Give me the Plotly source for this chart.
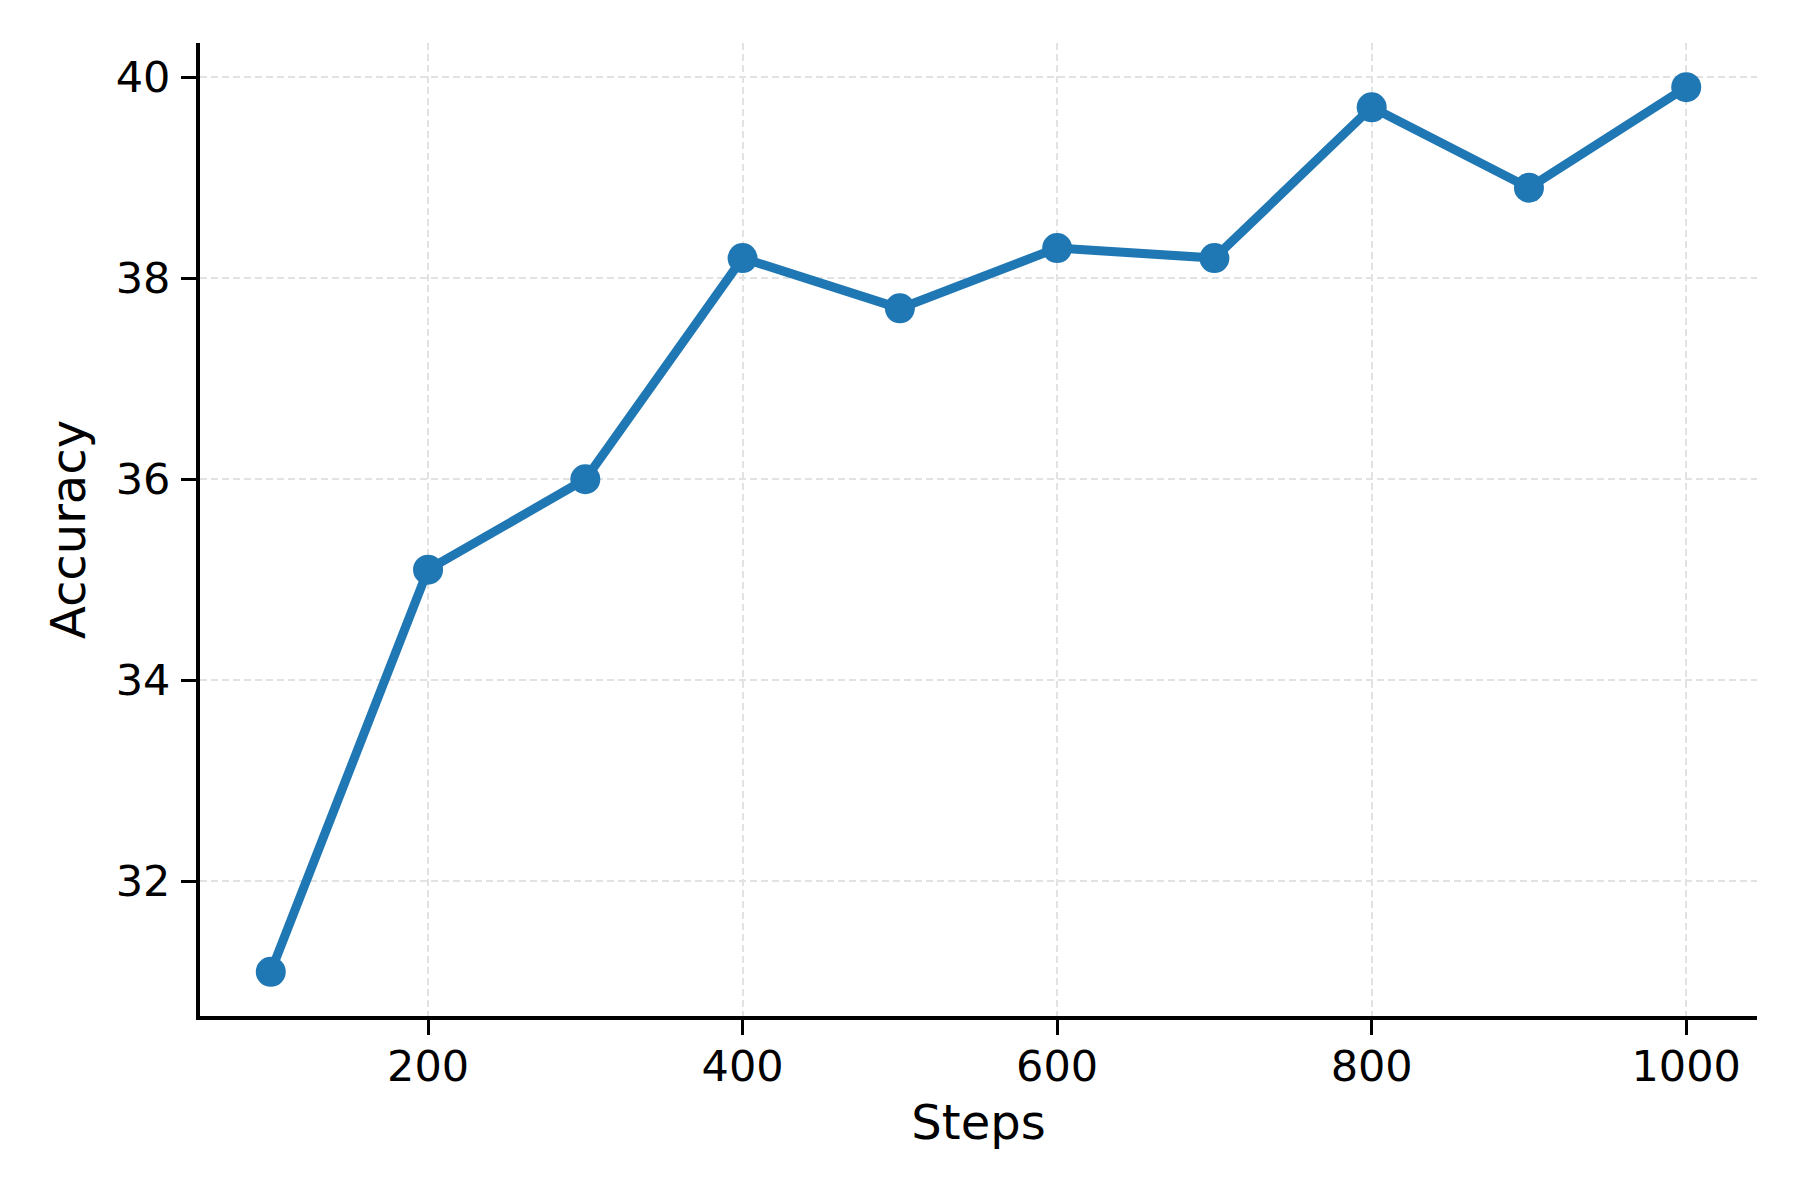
import plotly.graph_objects as go

steps = [100, 200, 300, 400, 500, 600, 700, 800, 900, 1000]
accuracy = [31.1, 35.1, 36.0, 38.2, 37.7, 38.3, 38.2, 39.7, 38.9, 39.9]
x_ticks = [200, 400, 600, 800, 1000]
y_ticks = [32, 34, 36, 38, 40]

color = "#1f77b4"
fig = go.Figure()
fig.add_trace(go.Scatter(
    x=steps, y=accuracy, mode="lines+markers",
    line=dict(color=color, width=9),
    marker=dict(color=color, size=30),
    showlegend=False,
))

font = "DejaVu Sans"
axis_common = dict(
    showline=True, linecolor="black", linewidth=4,
    ticks="outside", ticklen=15, tickwidth=3.3, tickcolor="black",
    showgrid=True, gridcolor="#e2e2e2", gridwidth=1.7, griddash="7px,4px",
    zeroline=False, mirror=False,
    tickfont=dict(family=font, size=43, color="black"),
)
# page body has an 8px default margin: compensate in the figure margins
fig.update_layout(
    width=1800, height=1200,
    paper_bgcolor="white", plot_bgcolor="white",
    margin=dict(l=192, r=51, t=35, b=192),
    font=dict(family=font, color="black"),
    xaxis=dict(range=[55, 1045], tickvals=x_ticks, ticklabelstandoff=-6,
               title=dict(text="Steps", font=dict(family=font, size=48, color="black"), standoff=17),
               **axis_common),
    yaxis=dict(range=[30.66, 40.34], tickvals=y_ticks, ticklabelstandoff=2,
               title=dict(text="Accuracy", font=dict(family=font, size=48, color="black"), standoff=16),
               **axis_common),
)
fig.write_html("out.html")
